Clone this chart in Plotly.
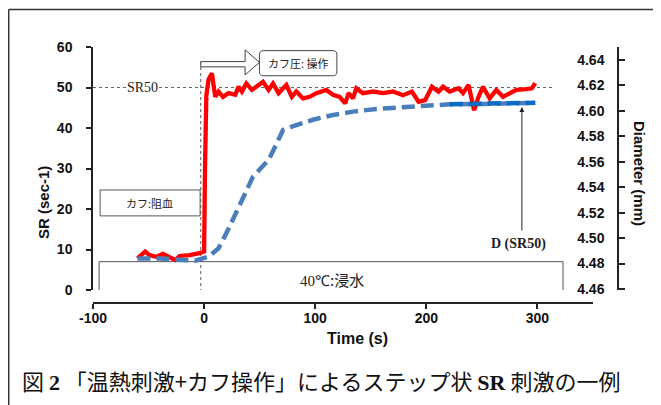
import plotly.graph_objects as go

# ---- data ----
sr_time = [-60, -57, -53, -49, -43, -37, -31, -26, -22, -13,
           -4, 0, 0.8, 2, 4, 7, 10, 13, 17, 22,
           28, 31, 34, 38, 43, 49, 53, 58, 62, 67,
           71, 74, 79, 83, 89, 95, 101, 110, 116, 122,
           127, 130, 134, 137, 143, 152, 161, 170, 179, 187,
           193, 199, 205, 211, 215, 221, 229, 233, 238, 243,
           247, 251, 257, 263, 269, 275, 281, 290, 295, 298]
sr_vals = [7.8, 8.6, 9.5, 8.6, 8.2, 8.9, 8.1, 7.4, 8.4, 8.6,
           9.1, 9.5, 30, 48, 52, 53.5, 47.7, 49, 47.7, 48.6,
           48.2, 50.2, 49, 51, 49.4, 50.6, 51.4, 49.4, 51, 48.6,
           49.8, 50.6, 47.7, 49, 47.3, 47.7, 48.6, 49.4, 48.2, 47.7,
           46.1, 48.6, 47.3, 49.8, 48.6, 49, 48.6, 49, 48.1, 49,
           46.5, 46.9, 50.2, 49, 50.2, 49, 49.8, 48.6, 50.6, 44.4,
           47.7, 50.2, 47.3, 49.4, 47.7, 48.6, 49.4, 49.6, 49.8, 51.1]

d_time = [-60, -40, -19, -8, 4, 13, 20, 28, 37, 44, 52, 58, 64, 71, 79,
          89, 98, 116, 134, 155, 161, 191, 221, 251, 298]
d_vals = [4.484, 4.484, 4.4828, 4.4822, 4.4854, 4.492, 4.5038, 4.5195, 4.5352,
          4.5483, 4.5561, 4.5614, 4.5719, 4.585, 4.5876, 4.5907, 4.593, 4.5968,
          4.5994, 4.6015, 4.6018, 4.6033, 4.6052, 4.6054, 4.6064]

d50_time = [221, 298]
d50_vals = [4.6052, 4.6064]

x_ticks = [-100, 0, 100, 200, 300]
x_labels = ["-100", "0", "100", "200", "300"]
sr_ticks = [0, 10, 20, 30, 40, 50, 60]
d_ticks = [4.46, 4.48, 4.50, 4.52, 4.54, 4.56, 4.58, 4.60, 4.62, 4.64]

SR50 = 50

# ---- geometry (screen pixels; page body has an 8px margin) ----
W, H = 661, 405
OFF = 8
PL, PR, PT, PB = 93, 631, 47, 310          # plot area in screen pixels
L, T = PL - OFF, PT - OFF
R, B = W - (PR - OFF), H - (PB - OFF)
PW, PH = PR - PL, PB - PT


def px(x):
    return (x - PL) / PW


def py(y):
    return (PB - y) / PH


SANS = "Liberation Sans, Arial, sans-serif"
SERIF = "Liberation Serif, Times New Roman, serif"
CJK = "Noto Sans CJK JP, sans-serif"
AX = "#222222"

fig = go.Figure()

fig.add_trace(go.Scatter(x=d_time, y=d_vals, yaxis="y2", mode="lines",
                         line=dict(color="#4A7EBB", width=4.5, dash="13px,6px"),
                         showlegend=False))
fig.add_trace(go.Scatter(x=d50_time, y=d50_vals, yaxis="y2", mode="lines",
                         line=dict(color="#0A6CC4", width=4.5, dash="13px,6px"),
                         showlegend=False))
fig.add_trace(go.Scatter(x=sr_time, y=sr_vals, mode="lines",
                         line=dict(color="#FF0000", width=4.3),
                         showlegend=False))

tickfont = dict(family=SANS, size=14, color="#111", weight="bold")

fig.update_layout(
    width=W, height=H,
    margin=dict(l=L, r=R, t=T, b=B, pad=0),
    paper_bgcolor="white", plot_bgcolor="white",
    xaxis=dict(domain=[0, 500 / PW], range=[-100, 350], anchor="free",
               position=py(303), tickvals=x_ticks, ticktext=x_labels,
               ticks="outside", ticklen=5,
               tickwidth=1.5, tickcolor=AX, showline=True, linecolor=AX,
               linewidth=1.5, showgrid=False, zeroline=False, tickfont=tickfont,
               ticklabelstandoff=-3),
    yaxis=dict(domain=[py(290), 1], range=[0, 60], anchor="x",
               tickvals=sr_ticks, ticks="outside", ticklen=5, tickwidth=1.5,
               tickcolor=AX, showline=True, linecolor=AX, linewidth=1.5,
               showgrid=False, zeroline=False, tickfont=tickfont,
               ticklabelstandoff=11),
    yaxis2=dict(overlaying="y", range=[4.4592, 4.6502], anchor="free",
                position=px(618), side="left", tickvals=d_ticks,
                tickformat=".2f", ticks="inside", ticklen=6, tickwidth=1.5,
                tickcolor=AX, showline=True, linecolor=AX, linewidth=1.5,
                showgrid=False, zeroline=False, tickfont=tickfont,
                ticklabelstandoff=10),
)

shapes = []
# outer frame (top & left)
shapes.append(dict(type="line", xref="paper", yref="paper", x0=px(8.7), x1=px(720),
                   y0=py(9.5), y1=py(9.5), line=dict(color="#333", width=1.5)))
shapes.append(dict(type="line", xref="paper", yref="paper", x0=px(8.7), x1=px(8.7),
                   y0=py(9.5), y1=py(430), line=dict(color="#333", width=1.5)))
# SR50 dotted line
shapes.append(dict(type="line", xref="x", yref="y", x0=-100, x1=314, y0=SR50, y1=SR50,
                   line=dict(color="#666", width=1.2, dash="dot"), layer="below"))
# vertical dotted at step
shapes.append(dict(type="line", xref="x", yref="y", x0=-3, x1=-3, y0=-0.5, y1=56.3,
                   line=dict(color="#555", width=1, dash="dot"), layer="below"))
# cuff occlusion box
shapes.append(dict(type="rect", xref="x", yref="y", x0=-93.6, x1=-3.6, y0=18.3, y1=24.7,
                   line=dict(color="#555", width=1)))
# immersion box
shapes.append(dict(type="rect", xref="x", yref="y", x0=-94.5, x1=323, y0=-0.5, y1=7,
                   line=dict(color="#555", width=1), layer="below"))
# hollow arrow
shapes.append(dict(type="path", xref="x", yref="y",
                   path="M -3,56.4 L 36.9,56.4 L 36.9,59.3 L 49.8,56.2 L 36.9,53.1 "
                        "L 36.9,55.1 L -3,55.1 Z",
                   line=dict(color="#444", width=1), fillcolor="white"))
# rounded box
x0b, x1b, y0b, y1b, rx, ry = 49.8, 119.5, 52.9, 59.1, 3.6, 1.0
shapes.append(dict(type="path", xref="x", yref="y",
                   path=(f"M {x0b+rx},{y0b} L {x1b-rx},{y0b} Q {x1b},{y0b} {x1b},{y0b+ry} "
                         f"L {x1b},{y1b-ry} Q {x1b},{y1b} {x1b-rx},{y1b} "
                         f"L {x0b+rx},{y1b} Q {x0b},{y1b} {x0b},{y1b-ry} "
                         f"L {x0b},{y0b+ry} Q {x0b},{y0b} {x0b+rx},{y0b} Z"),
                   line=dict(color="#444", width=1), fillcolor="white"))
fig.update_layout(shapes=shapes)

C = dict(xanchor="center", yanchor="middle", showarrow=False)
ann = []
ann.append(dict(text="SR50", x=-55.8, y=SR50, xref="x", yref="y",
                font=dict(family=SERIF, size=14, color="#222"), bgcolor="white",
                borderpad=0, **C))
ann.append(dict(text="カフ:阻血", x=-49, y=21.5, xref="x", yref="y",
                font=dict(family=CJK, size=11, color="#222"), **C))
ann.append(dict(text="<span style=\"font-family:'Liberation Serif'\">40℃</span>:浸水",
                x=115, y=2.6, xref="x", yref="y",
                font=dict(family=CJK, size=15, color="#222"), **C))
ann.append(dict(text="カフ圧: 操作", x=84.6, y=56.0, xref="x", yref="y",
                font=dict(family=CJK, size=11, color="#222"), **C))
ann.append(dict(text="<b>D (SR50)</b>", x=282.6, y=11.4, xref="x", yref="y",
                font=dict(family=SERIF, size=14, color="#222"), **C))
ann.append(dict(text="", x=286, y=45.2, ax=286, ay=14.3, xref="x", yref="y",
                axref="x", ayref="y", showarrow=True, arrowhead=2, arrowsize=1,
                arrowwidth=1, arrowcolor="#222", standoff=0, startstandoff=0))
ann.append(dict(text="<b>SR (sec-1)</b>", x=px(43), y=py(203), xref="paper",
                yref="paper", textangle=-90,
                font=dict(family=SANS, size=15, color="#111"), **C))
ann.append(dict(text="<b>Time (s)</b>", x=px(357), y=py(338), xref="paper",
                yref="paper", font=dict(family=SANS, size=16, color="#111"), **C))
ann.append(dict(text="<b>Diameter (mm)</b>", x=px(640), y=py(173), xref="paper",
                yref="paper", textangle=90,
                font=dict(family=SANS, size=15, color="#111"), **C))
cap = ("図 <span style=\"font-family:'Liberation Serif'\"><b>2</b></span> "
       "「温熱刺激+カフ操作」によるステップ状 "
       "<span style=\"font-family:'Liberation Serif'\"><b>SR</b></span> 刺激の一例")
ann.append(dict(text=cap, x=px(321), y=py(380), xref="paper", yref="paper",
                font=dict(family=CJK, size=22, color="#111"), **C))
fig.update_layout(annotations=ann)

fig.write_html("out.html")
